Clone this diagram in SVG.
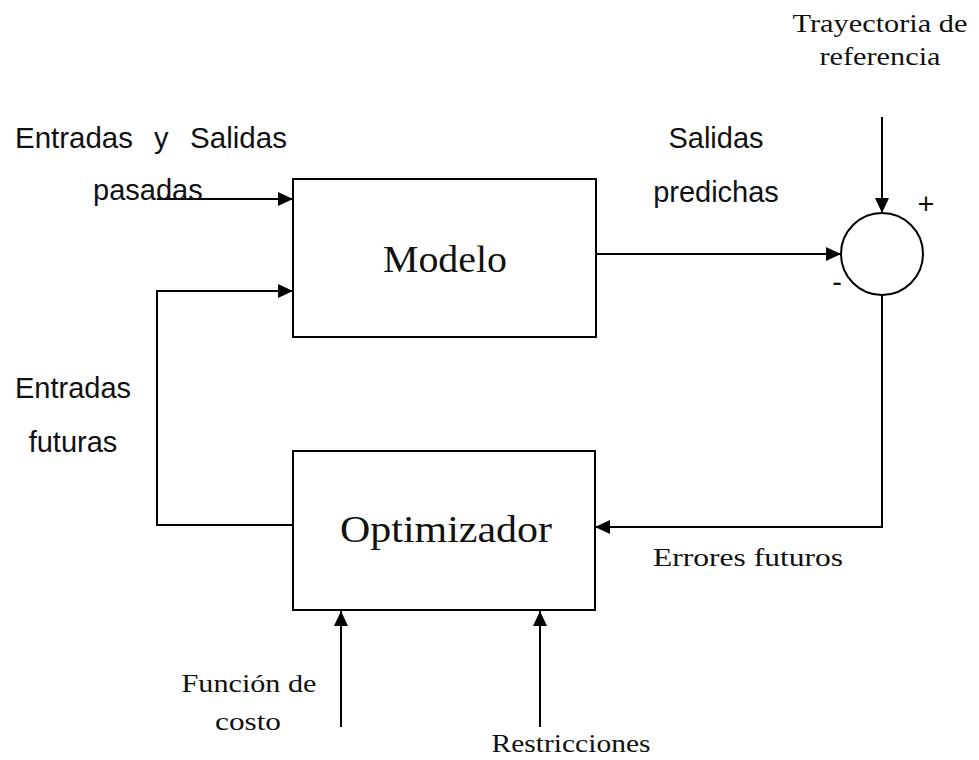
<svg xmlns="http://www.w3.org/2000/svg" width="979" height="760" viewBox="0 0 979 760">
<style>
.box{fill:#fff;stroke:#000;stroke-width:2}
.ln{fill:none;stroke:#000;stroke-width:2}
.sans{font-family:"Liberation Sans",Arial,sans-serif;font-size:29px;fill:#111}
.serif{font-family:"Liberation Serif","Times New Roman",serif;fill:#111}
</style>
<defs>
<marker id="ah" markerUnits="userSpaceOnUse" markerWidth="16" markerHeight="14" refX="15" refY="7" orient="auto">
<path d="M0,0 L15,7 L0,14 Z" fill="#000"/>
</marker>
</defs>
<g id="connectors">
<line class="ln" x1="157" y1="199" x2="293" y2="199" marker-end="url(#ah)"/>
<polyline class="ln" points="293,525 157,525 157,291 293,291" marker-end="url(#ah)"/>
<line class="ln" x1="596" y1="254" x2="841" y2="254" marker-end="url(#ah)"/>
<line class="ln" x1="882" y1="117" x2="882" y2="213" marker-end="url(#ah)"/>
<polyline class="ln" points="882,295 882,527 595,527" marker-end="url(#ah)"/>
<line class="ln" x1="341" y1="727" x2="341" y2="611" marker-end="url(#ah)"/>
<line class="ln" x1="540" y1="727" x2="540" y2="611" marker-end="url(#ah)"/>
</g>
<g id="modelo">
<rect class="box" x="293" y="179" width="303" height="158"/>
<text class="serif" x="445" y="272" font-size="37" text-anchor="middle" textLength="124" lengthAdjust="spacingAndGlyphs">Modelo</text>
</g>
<g id="optimizador">
<rect class="box" x="293" y="451" width="302" height="159"/>
<text class="serif" x="446" y="542" font-size="37" text-anchor="middle" textLength="212" lengthAdjust="spacingAndGlyphs">Optimizador</text>
</g>
<g id="sumador">
<circle cx="882" cy="254" r="41" fill="#fff" stroke="#000" stroke-width="2"/>
<text class="sans" x="926" y="214" font-size="20" text-anchor="middle">+</text>
<text class="sans" x="837" y="292" font-size="20" text-anchor="middle">-</text>
</g>
<g id="labels">
<text class="sans" x="15" y="148" textLength="118" lengthAdjust="spacingAndGlyphs">Entradas</text>
<text class="sans" x="154" y="148">y</text>
<text class="sans" x="190" y="148" textLength="97" lengthAdjust="spacingAndGlyphs">Salidas</text>
<text class="sans" x="93" y="200">pasadas</text>
<text class="sans" x="716" y="148" text-anchor="middle">Salidas</text>
<text class="sans" x="716" y="202" text-anchor="middle">predichas</text>
<text class="sans" x="73" y="398" text-anchor="middle">Entradas</text>
<text class="sans" x="73" y="452" text-anchor="middle">futuras</text>
<text class="serif" x="880" y="32" font-size="26" text-anchor="middle" textLength="175" lengthAdjust="spacingAndGlyphs">Trayectoria de</text>
<text class="serif" x="880" y="65" font-size="26" text-anchor="middle" textLength="121" lengthAdjust="spacingAndGlyphs">referencia</text>
<text class="serif" x="748" y="566" font-size="26" text-anchor="middle" textLength="190" lengthAdjust="spacingAndGlyphs">Errores futuros</text>
<text class="serif" x="249" y="692" font-size="26" text-anchor="middle" textLength="135" lengthAdjust="spacingAndGlyphs">Función de</text>
<text class="serif" x="248" y="730" font-size="26" text-anchor="middle" textLength="66" lengthAdjust="spacingAndGlyphs">costo</text>
<text class="serif" x="571" y="752" font-size="26" text-anchor="middle" textLength="159" lengthAdjust="spacingAndGlyphs">Restricciones</text>
</g>
</svg>
